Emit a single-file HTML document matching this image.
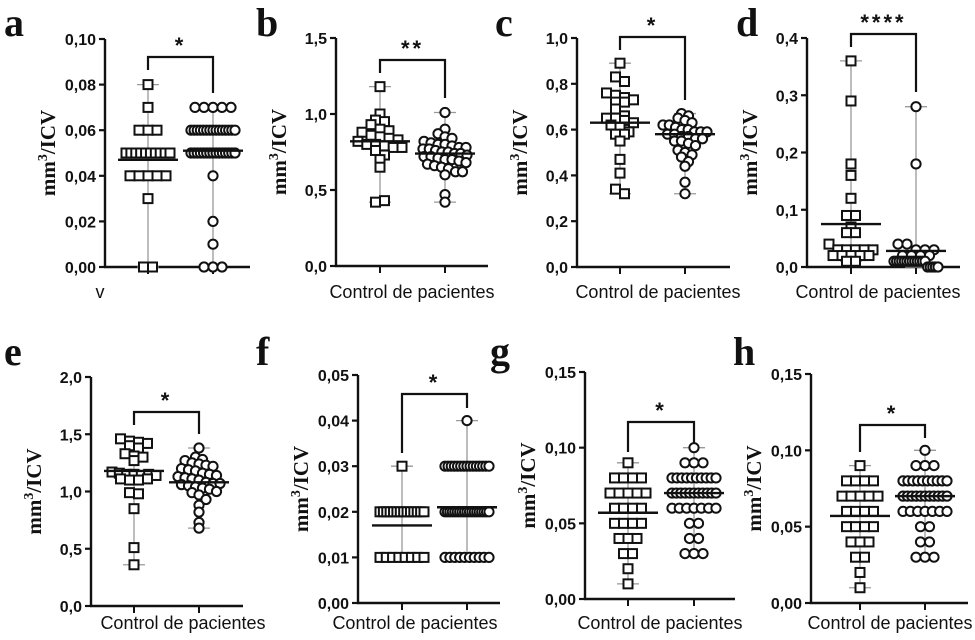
<!DOCTYPE html>
<html><head><meta charset="utf-8"><style>
html,body{margin:0;padding:0;background:#fff;}
svg{display:block;}
.tick{font:bold 16px "Liberation Sans",sans-serif;fill:#111;}
.ytitle{font:bold 21px "Liberation Serif",serif;fill:#111;}
.xlab{font:18px "Liberation Sans",sans-serif;fill:#111;}
.plabel{font:bold 40px "Liberation Serif",serif;fill:#111;}
.star{font:bold 22px "Liberation Sans",sans-serif;fill:#111;}
</style></head><body>
<svg id="fig" width="975" height="640" viewBox="0 0 975 640" xmlns="http://www.w3.org/2000/svg"></svg>
<script>
// ---- data ----
const aControl=[0.08,0.07,0.06,0.06,0.06,0.05,0.05,0.05,0.05,0.05,0.05,0.05,0.05,0.05,0.05,0.04,0.04,0.04,0.04,0.04,0.03,0,0];
const aPatients=[0.07,0.07,0.07,0.07,0.07,0.06,0.06,0.06,0.06,0.06,0.06,0.06,0.06,0.06,0.06,0.06,0.06,0.06,0.06,0.06,0.05,0.05,0.05,0.05,0.05,0.05,0.05,0.05,0.05,0.05,0.05,0.05,0.05,0.05,0.05,0.04,0.02,0.01,0,0,0];
const aMeans=[0.047,0.051];
const bControl=[1.18,1.0,0.96,0.95,0.93,0.9,0.89,0.88,0.86,0.85,0.84,0.83,0.82,0.8,0.8,0.79,0.78,0.78,0.76,0.73,0.7,0.65,0.42,0.43];
const bPatients=[1.01,0.9,0.87,0.85,0.84,0.82,0.81,0.8,0.8,0.79,0.78,0.78,0.77,0.77,0.76,0.75,0.75,0.74,0.74,0.73,0.72,0.72,0.71,0.7,0.7,0.69,0.68,0.67,0.66,0.65,0.64,0.62,0.62,0.6,0.47,0.42];
const bMeans=[0.82,0.74];
const cControl=[0.89,0.83,0.81,0.76,0.75,0.74,0.73,0.72,0.72,0.69,0.66,0.65,0.65,0.64,0.63,0.62,0.61,0.59,0.58,0.58,0.55,0.47,0.41,0.34,0.32];
const cPatients=[0.67,0.66,0.65,0.64,0.63,0.62,0.62,0.61,0.6,0.6,0.59,0.59,0.59,0.58,0.58,0.57,0.57,0.56,0.56,0.55,0.55,0.54,0.53,0.51,0.5,0.49,0.48,0.46,0.44,0.37,0.32];
const cMeans=[0.63,0.58];
const dControl=[0.36,0.29,0.18,0.16,0.12,0.09,0.09,0.07,0.06,0.06,0.04,0.03,0.03,0.03,0.03,0.03,0.02,0.02,0.02,0.02,0.02,0.01,0.01];
const dPatients=[0.28,0.18,0.04,0.04,0.03,0.03,0.03,0.02,0.02,0.02,0.02,0.01,0.01,0.01,0.01,0.01,0.01,0.01,0.01,0.01,0.01,0.01,0.01,0.01,0,0,0,0,0];
const dMeans=[0.075,0.028];
const eControl=[1.46,1.44,1.43,1.42,1.4,1.38,1.33,1.31,1.3,1.27,1.17,1.16,1.15,1.15,1.14,1.15,1.14,1.11,1.1,1.1,1.11,0.99,0.98,0.85,0.51,0.36];
const ePatients=[1.38,1.3,1.28,1.27,1.25,1.24,1.23,1.22,1.2,1.19,1.18,1.16,1.15,1.14,1.13,1.12,1.11,1.1,1.08,1.07,1.07,1.06,1.05,1.04,1.03,1.02,1.0,0.99,0.97,0.93,0.88,0.82,0.73,0.68];
const eMeans=[1.18,1.08];
const fControl=[0.03,0.02,0.02,0.02,0.02,0.02,0.02,0.02,0.02,0.02,0.02,0.02,0.02,0.02,0.02,0.01,0.01,0.01,0.01,0.01,0.01,0.01,0.01];
const fPatients=[0.04,0.03,0.03,0.03,0.03,0.03,0.03,0.03,0.03,0.03,0.03,0.03,0.03,0.03,0.03,0.03,0.02,0.02,0.02,0.02,0.02,0.02,0.02,0.02,0.02,0.02,0.02,0.02,0.02,0.02,0.02,0.02,0.02,0.02,0.02,0.01,0.01,0.01,0.01,0.01,0.01,0.01,0.01,0.01,0.01];
const fMeans=[0.017,0.021];
const gControl=[0.09,0.08,0.08,0.08,0.08,0.07,0.07,0.07,0.07,0.07,0.06,0.06,0.06,0.06,0.05,0.05,0.05,0.05,0.04,0.04,0.04,0.03,0.03,0.02,0.01];
const gPatients=[0.1,0.09,0.09,0.09,0.08,0.08,0.08,0.08,0.08,0.08,0.08,0.08,0.08,0.08,0.07,0.07,0.07,0.07,0.07,0.07,0.07,0.07,0.07,0.07,0.07,0.06,0.06,0.06,0.06,0.06,0.06,0.06,0.05,0.05,0.04,0.04,0.03,0.03,0.03];
const gMeans=[0.057,0.070];
const hControl=gControl.slice();
const hPatients=gPatients.slice();
const hMeans=[0.057,0.070];
const ticksA=[0,0.02,0.04,0.06,0.08,0.10], labelsA=["0,00","0,02","0,04","0,06","0,08","0,10"];
const ticksB=[0,0.5,1.0,1.5], labelsB=["0,0","0,5","1,0","1,5"];
const ticksC=[0,0.2,0.4,0.6,0.8,1.0], labelsC=["0,0","0,2","0,4","0,6","0,8","1,0"];
const ticksD=[0,0.1,0.2,0.3,0.4], labelsD=["0,0","0,1","0,2","0,3","0,4"];
const ticksE=[0,0.5,1.0,1.5,2.0], labelsE=["0,0","0,5","1,0","1,5","2,0"];
const ticksF=[0,0.01,0.02,0.03,0.04,0.05], labelsF=["0,00","0,01","0,02","0,03","0,04","0,05"];
const ticksG=[0,0.05,0.10,0.15], labelsG=["0,00","0,05","0,10","0,15"];
const stars=["*","**","*","****","*","*","*","*"];

const NS="http://www.w3.org/2000/svg";
const svg=document.getElementById('fig');
function mk(tag,attrs,parent){const e=document.createElementNS(NS,tag);for(const k in attrs)e.setAttribute(k,attrs[k]);(parent||svg).appendChild(e);return e;}

const panels=[
 {id:'a',lx:4,ly:36,ax:105,ay0:267,ay1:39,x1:250,max:0.10,ticks:ticksA,labels:labelsA,g:[aControl,aPatients],m:aMeans,gx:[148,213],sp:[9,9],bt:57,bl:[70,93],xlab:"v",xlx:100,xly:298,star:stars[0]},
 {id:'b',lx:256,ly:36,ax:336,ay0:266,ay1:38,x1:488,max:1.5,ticks:ticksB,labels:labelsB,g:[bControl,bPatients],m:bMeans,gx:[380,445],sp:[9,7],bt:60,bl:[73,98],xlab:"Control de pacientes",xlx:412,xly:298,star:stars[1]},
 {id:'c',lx:495,ly:36,ax:577,ay0:267,ay1:38,x1:730,max:1.0,ticks:ticksC,labels:labelsC,g:[cControl,cPatients],m:cMeans,gx:[620,685],sp:[9,7],bt:37,bl:[50,100],xlab:"Control de pacientes",xlx:658,xly:298,star:stars[2]},
 {id:'d',lx:736,ly:36,ax:807,ay0:267,ay1:38,x1:960,max:0.4,ticks:ticksD,labels:labelsD,g:[dControl,dPatients],m:dMeans,gx:[851,916],sp:[9,9],bt:34,bl:[47,92],xlab:"Control de pacientes",xlx:878,xly:298,star:stars[3]},
 {id:'e',lx:4,ly:365,ax:91,ay0:606,ay1:377,x1:243,max:2.0,ticks:ticksE,labels:labelsE,g:[eControl,ePatients],m:eMeans,gx:[134,199],sp:[9,7],bt:412,bl:[425,434],xlab:"Control de pacientes",xlx:183,xly:629,star:stars[4]},
 {id:'f',lx:256,ly:365,ax:358,ay0:603,ay1:375,x1:500,max:0.05,ticks:ticksF,labels:labelsF,g:[fControl,fPatients],m:fMeans,gx:[402,467],sp:[9,9],bt:394,bl:[453,408],xlab:"Control de pacientes",xlx:415,xly:629,star:stars[5]},
 {id:'g',lx:490,ly:365,ax:585,ay0:599,ay1:372,x1:735,max:0.15,ticks:ticksG,labels:labelsG,g:[gControl,gPatients],m:gMeans,gx:[628,694],sp:[9,9],bt:422,bl:[452,443],xlab:"Control de pacientes",xlx:660,xly:629,star:stars[6]},
 {id:'h',lx:733,ly:365,ax:811,ay0:603,ay1:374,x1:968,max:0.15,ticks:ticksG,labels:labelsG,g:[hControl,hPatients],m:hMeans,gx:[860,925],sp:[9,9],bt:425,bl:[452,438],xlab:"Control de pacientes",xlx:890,xly:629,star:stars[7]}
];

panels.forEach(p=>{
 const G=mk('g',{});
 
 
 const y=v=>p.ay0-(v/p.max)*(p.ay0-p.ay1);
 const L=mk('text',{x:p.lx,y:p.ly,class:'plabel'},G);L.textContent=p.id;
 
 
 const ya=mk('line',{x1:p.ax,y1:p.ay1,x2:p.ax,y2:p.ay0+1,stroke:'#111','stroke-width':2.4},G);
 
 
 const xa=mk('line',{x1:p.ax-1,y1:p.ay0,x2:p.x1,y2:p.ay0,stroke:'#111','stroke-width':2.4},G);
 
 
 p.ticks.forEach((t,i)=>{
  mk('line',{x1:p.ax-6,y1:y(t),x2:p.ax,y2:y(t),stroke:'#111','stroke-width':2.2},G);
  const tl=mk('text',{x:p.ax-9,y:y(t)+6,class:'tick','text-anchor':'end'},G);tl.textContent=p.labels[i];
  
  
 });
 p.gx.forEach(gx=>mk('line',{x1:gx,y1:p.ay0,x2:gx,y2:p.ay0+7,stroke:'#111','stroke-width':2},G));
 const yt=mk('text',{x:0,y:0,class:'ytitle','text-anchor':'middle',transform:`translate(${p.ax-50},${(p.ay0+p.ay1)/2}) rotate(-90)`},G);
 yt.innerHTML='mm<tspan dy="-8" font-size="14">3</tspan><tspan dy="8">/ICV</tspan>';
 
 
 const xl=mk('text',{x:p.xlx,y:p.xly,class:'xlab','text-anchor':'middle'},G);xl.textContent=p.xlab;
 
 
 p.g.forEach((vals,gi)=>{
  const cx=p.gx[gi];
  const mn=Math.min(...vals),mx=Math.max(...vals);
  mk('line',{x1:cx,y1:y(mx),x2:cx,y2:y(mn),stroke:'#999','stroke-width':1.3},G);
  [mn,mx].forEach(v=>mk('line',{x1:cx-11,y1:y(v),x2:cx+11,y2:y(v),stroke:'#999','stroke-width':1.3},G));
  const bins={};
  vals.forEach(v=>{const k=Math.round(y(v)/8);(bins[k]=bins[k]||[]).push(v);});
  Object.values(bins).forEach(arr=>{
   const n=arr.length;
   const s=n>1?Math.min(p.sp[gi],44/(n-1)):0;
   arr.forEach((v,i)=>{
    const px=cx+(i-(n-1)/2)*s, py=y(v);
    let m;
    if(gi===0) m=mk('rect',{x:px-4.5,y:py-4.5,width:9,height:9,fill:'#fff',stroke:'#111','stroke-width':2},G);
    else m=mk('circle',{cx:px,cy:py,r:4.6,fill:'#fff',stroke:'#111','stroke-width':2},G);
    
    
   });
  });
  const ml=mk('line',{x1:cx-30,y1:y(p.m[gi]),x2:cx+30,y2:y(p.m[gi]),stroke:'#111','stroke-width':2.4},G);
  
  
 });
 const br=mk('path',{d:`M${p.gx[0]},${p.bl[0]} V${p.bt} H${p.gx[1]} V${p.bl[1]}`,fill:'none',stroke:'#111','stroke-width':2.2},G);
 
 
 const st=mk('text',{x:(p.gx[0]+p.gx[1])/2,y:p.bt-4,class:'star','text-anchor':'middle','letter-spacing':'3'},G);st.textContent=p.star;
 
 
});
</script>
</body></html>
